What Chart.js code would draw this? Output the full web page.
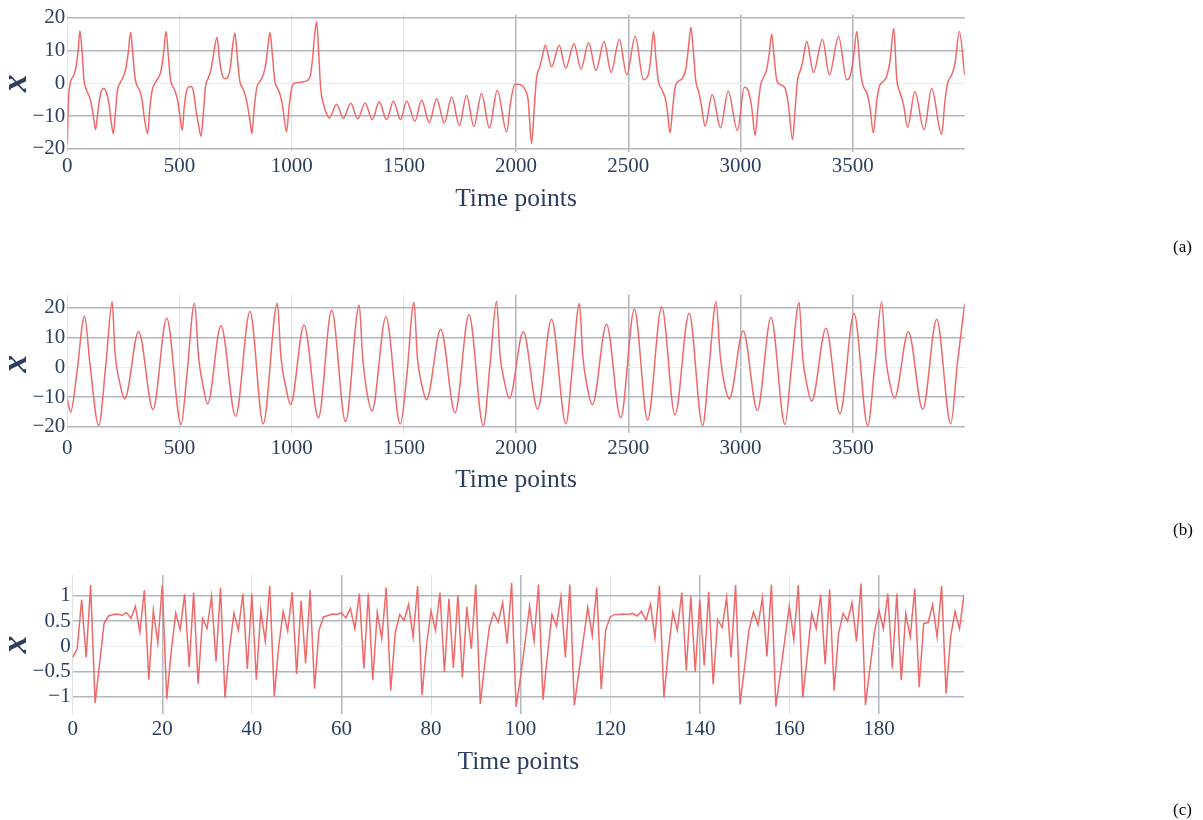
<!DOCTYPE html>
<html><head><meta charset="utf-8">
<script src="https://cdn.jsdelivr.net/npm/chart.js@4"></script>
<style>
body{margin:0;background:#fff;width:1203px;height:820px;position:relative;overflow:hidden}
canvas{position:absolute;left:0}
.lab{position:absolute;font-family:"Liberation Serif",serif;font-size:17px;color:#000;line-height:17px}
</style></head><body>
<canvas id="ca" width="1203" height="280" style="top:0px"></canvas>
<canvas id="cb" width="1203" height="280" style="top:280px"></canvas>
<canvas id="cc" width="1203" height="260" style="top:560px"></canvas>
<div class="lab" style="left:1173px;top:238px">(a)</div>
<div class="lab" style="left:1173px;top:521px">(b)</div>
<div class="lab" style="left:1173px;top:801px">(c)</div>
<script>
// ---- Tick labels ----
const longXTicks = [0,500,1000,1500,2000,2500,3000,3500];
const longYTicks = [-20,-10,0,10,20];
const shortXTicks = [0,20,40,60,80,100,120,140,160,180];
const shortYTicks = [-1,-0.5,0,0.5,1];

// ---- Panel (a) ----
const aTime = [0,5,12,30,39,49,56,67,74,83,94,104,116,126,135,146,153,163,175,186,195,205,215,223,235,250,261,272,282,291,302,312,324,334,343,358,368,379,391,405,417,428,440,450,460,472,483,492,502,512,521,532,550,562,572,584,596,606,616,628,640,651,667,677,688,703,717,728,737,747,758,769,781,792,802,814,823,832,844,859,873,884,893,903,914,925,936,948,958,966,977,988,1000,1015,1037,1059,1074,1084,1093,1102,1111,1120,1129,1138,1148,1168,1200,1230,1263,1294,1327,1359,1390,1423,1453,1485,1512,1549,1579,1613,1646,1680,1713,1747,1779,1812,1846,1881,1916,1958,1975,1995,2017,2040,2054,2069,2081,2091,2106,2118,2130,2158,2192,2221,2258,2289,2323,2356,2392,2423,2460,2493,2531,2567,2589,2600,2612,2623,2634,2649,2664,2674,2686,2698,2708,2723,2742,2757,2769,2779,2790,2801,2815,2827,2842,2874,2911,2945,2986,3017,3035,3050,3065,3079,3090,3105,3116,3128,3139,3149,3161,3176,3198,3213,3232,3243,3253,3265,3277,3295,3325,3365,3396,3437,3473,3488,3503,3518,3533,3545,3565,3577,3592,3607,3619,3637,3651,3666,3683,3696,3711,3726,3745,3777,3818,3852,3896,3911,3923,3941,3956,3975,3999];
const aValue = [-18.4,-5.4,-0.4,2.6,5.0,10.6,16.1,8.6,1.1,-1.6,-3.4,-5.4,-9.9,-14.2,-9.4,-3.9,-2.2,-1.6,-2.9,-6.4,-11.4,-15.4,-8.4,-2.4,0.1,2.1,4.6,9.6,15.6,9.6,1.6,-0.9,-2.4,-5.4,-10.4,-15.4,-7.4,-1.9,0.1,1.6,3.6,8.6,15.9,8.6,1.1,-1.2,-2.9,-5.4,-9.9,-14.4,-7.4,-2.2,-1.0,-2.4,-7.4,-12.4,-16.2,-9.4,-0.9,1.6,4.1,8.6,14.1,8.1,3.1,1.4,2.1,5.6,11.6,15.4,7.6,0.6,-1.4,-3.4,-6.4,-11.4,-15.4,-8.4,-1.4,0.6,2.6,5.6,10.6,15.6,8.6,0.6,-1.4,-3.4,-6.4,-10.4,-14.9,-7.4,-1.4,0.1,0.3,0.6,1.1,2.6,7.6,14.6,18.9,9.6,-1.4,-5.4,-7.9,-10.6,-6.4,-10.7,-6.1,-10.9,-6.0,-11.1,-5.7,-11.1,-5.5,-11.1,-5.4,-11.6,-5.1,-12.0,-4.7,-12.2,-4.2,-12.9,-3.7,-13.2,-3.1,-13.7,-2.1,-14.9,-6.0,-0.2,-0.4,-1.9,-5.4,-18.4,-7.4,1.6,5.1,8.6,11.6,5.1,11.6,4.6,12.1,4.3,12.4,3.9,12.8,3.3,13.4,2.6,14.4,1.1,2.6,7.6,15.8,7.6,0.6,-1.9,-4.4,-8.4,-15.2,-7.4,-1.4,0.6,1.6,4.6,11.6,17.1,9.6,0.6,-2.9,-7.4,-13.1,-3.4,-13.6,-2.4,-14.4,-1.2,-2.4,-7.4,-15.9,-6.4,-0.4,2.1,4.1,9.0,15.1,8.6,1.1,-0.4,-1.4,-6.4,-17.2,-8.4,0.6,3.6,6.6,12.8,3.3,13.4,2.6,14.3,1.1,2.1,7.6,15.8,4.6,-0.4,-3.4,-7.4,-15.2,-5.4,-0.9,0.6,2.1,6.6,16.8,1.6,-2.9,-6.4,-13.4,-2.6,-14.2,-1.6,-15.6,-5.4,0.1,2.6,6.1,15.8,2.4];

// ---- Panel (b) ----
const bTime = [0,15,42,77,101,140,172,200,212,235,256,318,382,443,507,532,567,585,606,625,685,750,814,873,936,952,974,995,1055,1119,1178,1240,1301,1316,1334,1358,1420,1484,1512,1545,1560,1579,1601,1664,1728,1790,1854,1884,1913,1928,1947,1970,2032,2096,2158,2222,2252,2282,2297,2317,2340,2403,2466,2527,2586,2649,2708,2771,2831,2861,2891,2909,2928,2950,3012,3075,3136,3198,3228,3261,3277,3295,3317,3381,3443,3506,3567,3599,3629,3647,3666,3686,3748,3812,3874,3937,3966,3999];
const bValue = [-10.6,-15.1,-2.2,17.3,1.1,-19.6,1.1,22.1,5.6,-5.6,-10.6,12.1,-14.2,16.5,-19.2,-3.4,21.6,3.4,-6.7,-12.3,14.0,-16.5,18.8,-19.0,21.6,3.4,-6.7,-12.5,14.3,-17.0,19.2,-18.3,20.9,3.4,-7.8,-14.7,17.0,-19.1,-3.4,21.9,3.4,-5.6,-10.9,12.8,-15.3,17.7,-19.8,1.1,22.3,4.5,-4.5,-10.4,12.0,-14.1,16.2,-19.0,1.1,21.5,3.9,-6.7,-12.6,14.5,-17.0,19.6,-17.7,20.3,-16.0,18.2,-19.7,1.1,22.1,4.5,-5.6,-10.6,12.3,-14.5,16.8,-19.2,1.1,21.8,3.4,-5.6,-11.4,13.2,-15.6,18.1,-19.6,1.1,22.1,3.4,-5.6,-10.4,12.0,-14.2,16.2,-19.0,1.1,21.5];

// ---- Panel (c) ----
const cValue = [-0.22,-0.05,0.92,-0.22,1.21,-1.12,-0.35,0.45,0.60,0.63,
0.64,0.61,0.67,0.55,0.79,0.28,1.11,-0.66,0.71,0.07,
1.21,-1.04,-0.10,0.66,0.33,1.03,-0.41,1.06,-0.74,0.55,
0.35,0.99,-0.30,1.16,-1.02,-0.05,0.66,0.32,1.04,-0.45,
1.04,-0.66,0.70,0.10,1.19,-0.99,0.00,0.69,0.30,1.07,
-0.55,0.90,-0.34,1.11,-0.84,0.32,0.58,0.61,0.64,0.63,
0.66,0.56,0.75,0.35,1.04,-0.44,1.04,-0.67,0.67,0.15,
1.16,-0.88,0.26,0.63,0.51,0.83,0.18,1.19,-0.97,0.02,
0.70,0.32,1.06,-0.51,0.94,-0.43,1.02,-0.62,0.78,-0.05,
1.22,-1.14,-0.35,0.37,0.66,0.48,0.86,0.05,1.25,-1.20,
-0.60,0.08,0.79,0.11,1.22,-1.06,-0.18,0.63,0.40,0.98,
-0.22,1.22,-1.17,-0.52,0.12,0.77,0.21,1.16,-0.85,0.32,
0.58,0.63,0.63,0.64,0.63,0.65,0.60,0.69,0.51,0.83,
0.17,1.20,-1.02,-0.08,0.68,0.32,1.06,-0.48,0.99,-0.51,
0.92,-0.38,1.08,-0.75,0.53,0.37,0.96,-0.22,1.21,-1.15,
-0.42,0.33,0.68,0.42,0.96,-0.20,1.22,-1.19,-0.53,0.13,
0.79,0.13,1.21,-1.02,-0.20,0.65,0.35,1.02,-0.36,1.12,
-0.88,0.25,0.65,0.50,0.86,0.09,1.24,-1.16,-0.44,0.28,
0.71,0.35,1.04,-0.44,1.04,-0.67,0.65,0.18,1.14,-0.81,
0.45,0.47,0.82,0.18,1.19,-0.94,0.18,0.69,0.35,1.02];

const FONT = '"Liberation Serif", "Times New Roman", serif';
const INK = '#2a3f5f';
const LINE = '#ee6a6a';
const GRID_DARK = '#b3b6bc';
const GRID_LIGHT = '#dde1e8';
const ZERO = '#e8edf5';

function fmt(v) {
  const r = Math.round(v * 1000) / 1000;
  return (r < 0 ? '\u2212' : '') + String(Math.abs(r));
}

function panel(id, points, g) {
  const W = 1203, H = g.H;
  return new Chart(document.getElementById(id), {
    type: 'line',
    data: { datasets: [{
      data: points, borderColor: LINE, borderWidth: 1.5, pointRadius: 0,
      cubicInterpolationMode: g.smooth ? 'monotone' : 'default', tension: 0, fill: false
    }]},
    options: {
      responsive: false, animation: false, devicePixelRatio: 1,
      layout: { padding: { left: 0, right: W - g.right, top: g.top, bottom: 0 } },
      plugins: { legend: { display: false }, tooltip: { enabled: false } },
      scales: {
        x: {
          type: 'linear', min: g.xMin, max: g.xMax,
          border: { display: false },
          grid: { drawTicks: false,
                  color: c => g.xDark(c.tick.value) ? GRID_DARK : GRID_LIGHT,
                  lineWidth: c => g.xDark(c.tick.value) ? 1.5 : 1 },
          ticks: { autoSkip: false, maxRotation: 0,
                   padding: g.xTickPad, color: INK, font: { family: FONT, size: 21 }, callback: v => fmt(v) },
          afterBuildTicks: s => { s.ticks = g.xTicks.map(v => ({ value: v })); },
          title: { display: true, text: 'Time points', color: INK,
                   font: { family: FONT, size: 25.5 }, padding: { top: 0, bottom: H - g.titleY - 15.3 } },
          afterFit: s => { s.height = H - g.bottom; }
        },
        y: {
          min: g.yMin, max: g.yMax,
          border: { display: false },
          grid: { drawTicks: false,
                  color: c => Math.abs(c.tick.value) < 1e-9 ? ZERO : GRID_DARK,
                  lineWidth: c => Math.abs(c.tick.value) < 1e-9 ? 1 : 1.5 },
          ticks: { padding: 2, color: INK, font: { family: FONT, size: 21 }, callback: v => fmt(v) },
          afterBuildTicks: s => { s.ticks = g.yTicks.map(v => ({ value: v })); },
          title: { display: true, text: 'x', color: INK,
                   font: { family: FONT, size: 35, weight: 'bold', style: 'italic', lineHeight: 1 },
                   padding: { top: -1, bottom: 0 } },
          afterFit: s => { s.width = g.left; }
        }
      }
    }
  });
}

const aPts = aTime.map((t, i) => ({ x: t, y: aValue[i] }));
const bPts = bTime.map((t, i) => ({ x: t, y: bValue[i] }));
const cPts = cValue.map((v, i) => ({ x: i, y: v }));

panel('ca', aPts, { H: 280, top: 12, bottom: 152, left: 67.3, right: 964.7, titleY: 198.8, xTickPad: 2,
  xMin: 0, xMax: 3999, xTicks: longXTicks, yMin: -21, yMax: 21, yTicks: longYTicks, smooth: true, xDark: v => v >= 2000 });
panel('cb', bPts, { H: 280, top: 14, bottom: 152.7, left: 67.3, right: 964.7, titleY: 200.5, xTickPad: 3,
  xMin: 0, xMax: 3999, xTicks: longXTicks, yMin: -22, yMax: 24.5, yTicks: longYTicks, smooth: true, xDark: v => v >= 2000 });
panel('cc', cPts, { H: 260, top: 15, bottom: 154, left: 72.7, right: 964, titleY: 202.2, xTickPad: 3,
  xMin: 0, xMax: 199, xTicks: shortXTicks, yMin: -1.34, yMax: 1.41, yTicks: shortYTicks, smooth: false, xDark: v => (Math.round(v / 20) % 2) === 1 });
</script>
</body></html>
